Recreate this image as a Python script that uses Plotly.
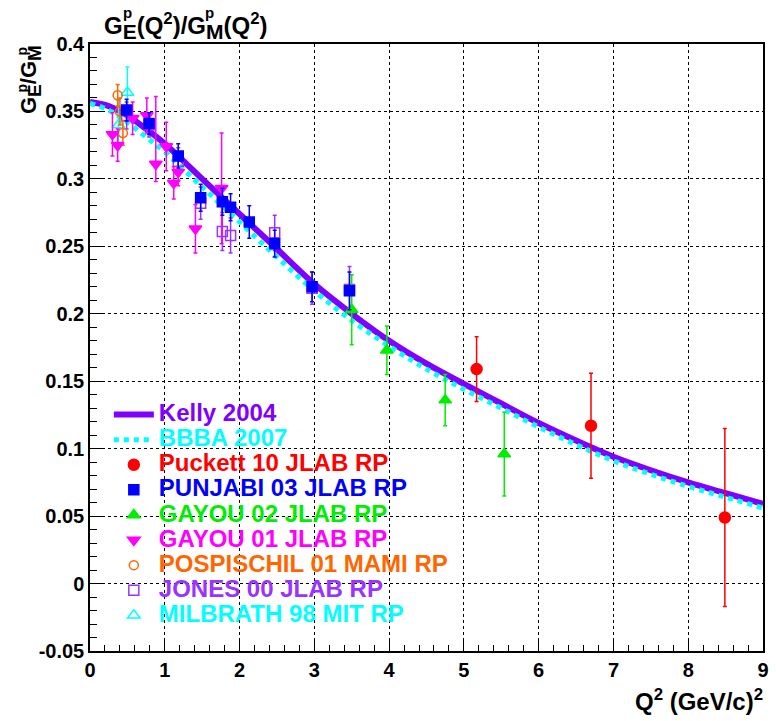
import plotly.graph_objects as go

FONT = "Liberation Sans, Arial, Helvetica, sans-serif"

# ---- model curves: G_E^p / G_M^p vs Q^2 ----
q2_model = [0, 0.25, 0.5, 0.75, 1, 1.5, 2, 2.5, 3, 3.5, 4, 4.5, 5, 5.5, 6, 6.5, 7, 7.5, 8, 8.5, 9]
kelly_2004 = [0.357, 0.354, 0.347, 0.337, 0.326, 0.300, 0.274, 0.248, 0.222, 0.200, 0.180,
              0.163, 0.148, 0.1335, 0.119, 0.106, 0.094, 0.084, 0.075, 0.067, 0.059]
bbba_2007 = [0.356, 0.351, 0.342, 0.331, 0.320, 0.294, 0.268, 0.242, 0.217, 0.195, 0.176,
             0.159, 0.144, 0.130, 0.116, 0.103, 0.091, 0.081, 0.072, 0.064, 0.056]

# ---- recoil polarization measurements ----
puckett_q2 = [5.17, 6.70, 8.49]
puckett_r = [0.159, 0.117, 0.049]
puckett_err = [0.024, 0.039, 0.066]

punjabi_q2 = [0.49, 0.79, 1.18, 1.48, 1.77, 1.88, 2.13, 2.47, 2.97, 3.47]
punjabi_r = [0.351, 0.341, 0.317, 0.286, 0.283, 0.279, 0.268, 0.252, 0.220, 0.217]
punjabi_err = [0.008, 0.008, 0.009, 0.010, 0.010, 0.010, 0.012, 0.010, 0.011, 0.014]

gayou02_q2 = [3.50, 3.97, 4.75, 5.54]
gayou02_r = [0.203, 0.173, 0.136, 0.096]
gayou02_err = [0.026, 0.018, 0.019, 0.031]

gayou01_q2 = [0.30, 0.37, 0.57, 0.76, 0.88, 1.02, 1.12, 1.18, 1.41, 1.76]
gayou01_r = [0.333, 0.325, 0.345, 0.347, 0.311, 0.324, 0.297, 0.305, 0.263, 0.293]
gayou01_err_up = [0.016, 0.012, 0.012, 0.013, 0.050, 0.018, 0.012, 0.010, 0.018, 0.041]
gayou01_err_dn = [0.016, 0.012, 0.012, 0.013, 0.013, 0.018, 0.012, 0.010, 0.018, 0.041]

pospischil_q2 = [0.37, 0.40, 0.44]
pospischil_r = [0.362, 0.350, 0.334]
pospischil_err = [0.008, 0.010, 0.009]

jones_q2 = [0.49, 0.79, 1.18, 1.48, 1.77, 1.88, 2.47, 2.97, 3.47]
jones_r = [0.347, 0.340, 0.313, 0.282, 0.261, 0.258, 0.260, 0.219, 0.218]
jones_err = [0.010, 0.009, 0.010, 0.012, 0.014, 0.013, 0.013, 0.012, 0.017]

milbrath_q2 = [0.38, 0.50]
milbrath_r = [0.340, 0.364]
milbrath_err = [0.018, 0.019]

# axis ticks
x_ticks = [0, 1, 2, 3, 4, 5, 6, 7, 8, 9]
x_ticktext = ["0", "1", "2", "3", "4", "5", "6", "7", "8", "9"]
y_ticks = [-0.05, 0, 0.05, 0.1, 0.15, 0.2, 0.25, 0.3, 0.35, 0.4]
y_ticktext = ["-0.05", "0", "0.05", "0.1", "0.15", "0.2", "0.25", "0.3", "0.35", "0.4"]

C_KELLY = "#8000ff"
C_BBBA = "#00ffff"
C_PUCKETT = "#ff0000"
C_PUNJABI = "#0000ff"
C_GAYOU02 = "#00ee00"
C_GAYOU01 = "#ff00ff"
C_POSP = "#ff6600"
C_JONES = "#9933ff"
C_MILB = "#00ffff"


def label(text, color):
    return f"<span style='font-size:24px;color:{color}'>{text}</span>"


fig = go.Figure()

fig.add_trace(go.Scatter(x=q2_model, y=kelly_2004, mode="lines", line_shape="spline",
                         line=dict(color=C_KELLY, width=6),
                         name=label("Kelly 2004", C_KELLY), legendrank=1))
fig.add_trace(go.Scatter(x=q2_model, y=bbba_2007, mode="lines", line_shape="spline",
                         line=dict(color=C_BBBA, width=5, dash="dot"),
                         name=label("BBBA 2007", C_BBBA), legendrank=2))


def data_trace(q2, r, err, color, symbol, size, name, rank, err_dn=None):
    ey = dict(type="data", array=err, color=color, thickness=1.5, width=2)
    if err_dn is not None:
        ey.update(symmetric=False, arrayminus=err_dn)
    return go.Scatter(x=q2, y=r, mode="markers",
                      marker=dict(color=color, symbol=symbol, size=size,
                                  line=dict(color=color, width=1.5)),
                      error_y=ey, name=label(name, color), legendrank=rank)


fig.add_trace(data_trace(milbrath_q2, milbrath_r, milbrath_err, C_MILB, "triangle-up-open", 11,
                         "MILBRATH 98 MIT RP", 9))
fig.add_trace(data_trace(jones_q2, jones_r, jones_err, C_JONES, "square-open", 10,
                         "JONES 00 JLAB RP", 8))
fig.add_trace(data_trace(pospischil_q2, pospischil_r, pospischil_err, C_POSP, "circle-open", 9,
                         "POSPISCHIL 01 MAMI RP", 7))
fig.add_trace(data_trace(gayou01_q2, gayou01_r, gayou01_err_up, C_GAYOU01, "triangle-down", 11,
                         "GAYOU 01 JLAB RP", 6, err_dn=gayou01_err_dn))
fig.add_trace(data_trace(gayou02_q2, gayou02_r, gayou02_err, C_GAYOU02, "triangle-up", 11,
                         "GAYOU 02 JLAB RP", 5))
fig.add_trace(data_trace(punjabi_q2, punjabi_r, punjabi_err, C_PUNJABI, "square", 10,
                         "PUNJABI 03 JLAB RP", 4))
fig.add_trace(data_trace(puckett_q2, puckett_r, puckett_err, C_PUCKETT, "circle", 11,
                         "Puckett 10 JLAB RP", 3))

# plot area: x 90..769 px, y 44..651 px
L, R, T, B = 90, 7, 44, 70
W, H = 776, 721
PW, PH = W - L - R, H - T - B


def px(xp):
    return (xp - L) / PW


def py(yp):
    return (H - B - yp) / PH


axis_common = dict(showline=True, linecolor="black", linewidth=1.5, mirror=True,
                   showgrid=True, gridcolor="black", griddash="dot", gridwidth=1,
                   zeroline=False, ticks="inside", tickcolor="black", tickwidth=1,
                   tickfont=dict(family=FONT, size=20, color="black", weight="bold"))

fig.update_xaxes(range=[0, 9], tickmode="array", tickvals=x_ticks, ticktext=x_ticktext,
                 ticklen=12, minor=dict(dtick=0.2, tick0=0, ticks="inside", ticklen=6,
                                        tickcolor="black", showgrid=False),
                 **axis_common)
fig.update_yaxes(range=[-0.05, 0.4], tickmode="array", tickvals=y_ticks, ticktext=y_ticktext,
                 ticklen=13, minor=dict(dtick=0.01, tick0=0, ticks="inside", ticklen=7,
                                        tickcolor="black", showgrid=False),
                 **axis_common)

annotations = [
    # plot title
    dict(text="G<sub><span style='font-size:21px'>E</span></sub>(Q<sup>2</sup>)/"
              "G<sub><span style='font-size:21px'>M</span></sub>(Q<sup>2</sup>)",
         x=px(102), y=py(26), xanchor="left", yanchor="middle",
         font=dict(size=24, weight="bold")),
    dict(text="p", x=px(128), y=py(13), xanchor="center", yanchor="middle",
         font=dict(size=15, weight="bold")),
    dict(text="p", x=px(211), y=py(13), xanchor="center", yanchor="middle",
         font=dict(size=15, weight="bold")),
    # y axis title
    dict(text="G<sub><span style='font-size:19px'>E</span></sub>/"
              "G<sub><span style='font-size:19px'>M</span></sub>",
         x=px(30), y=py(43), xanchor="center", yanchor="top", textangle=-90,
         font=dict(size=22, weight="bold")),
    dict(text="p", x=px(21), y=py(88), xanchor="center", yanchor="middle", textangle=-90,
         font=dict(size=14, weight="bold")),
    dict(text="p", x=px(21), y=py(51), xanchor="center", yanchor="middle", textangle=-90,
         font=dict(size=14, weight="bold")),
    # x axis title
    dict(text="Q<sup>2</sup> (GeV/c)<sup>2</sup>", x=px(771), y=py(700),
         xanchor="right", yanchor="middle", font=dict(size=24, weight="bold")),
]
for a in annotations:
    a.update(xref="paper", yref="paper", showarrow=False)
    a["font"].update(family=FONT, color="black")

fig.update_layout(
    width=W, height=H,
    margin=dict(l=L, r=R, t=T, b=B),
    paper_bgcolor="white", plot_bgcolor="white",
    font=dict(family=FONT, color="black"),
    annotations=annotations,
    showlegend=True,
    legend=dict(x=px(109), y=py(397), xanchor="left", yanchor="top",
                bgcolor="rgba(0,0,0,0)", borderwidth=0, itemwidth=40,
                font=dict(family=FONT, size=17, weight="bold"),
                tracegroupgap=0),
)

fig.write_html("out.html")
